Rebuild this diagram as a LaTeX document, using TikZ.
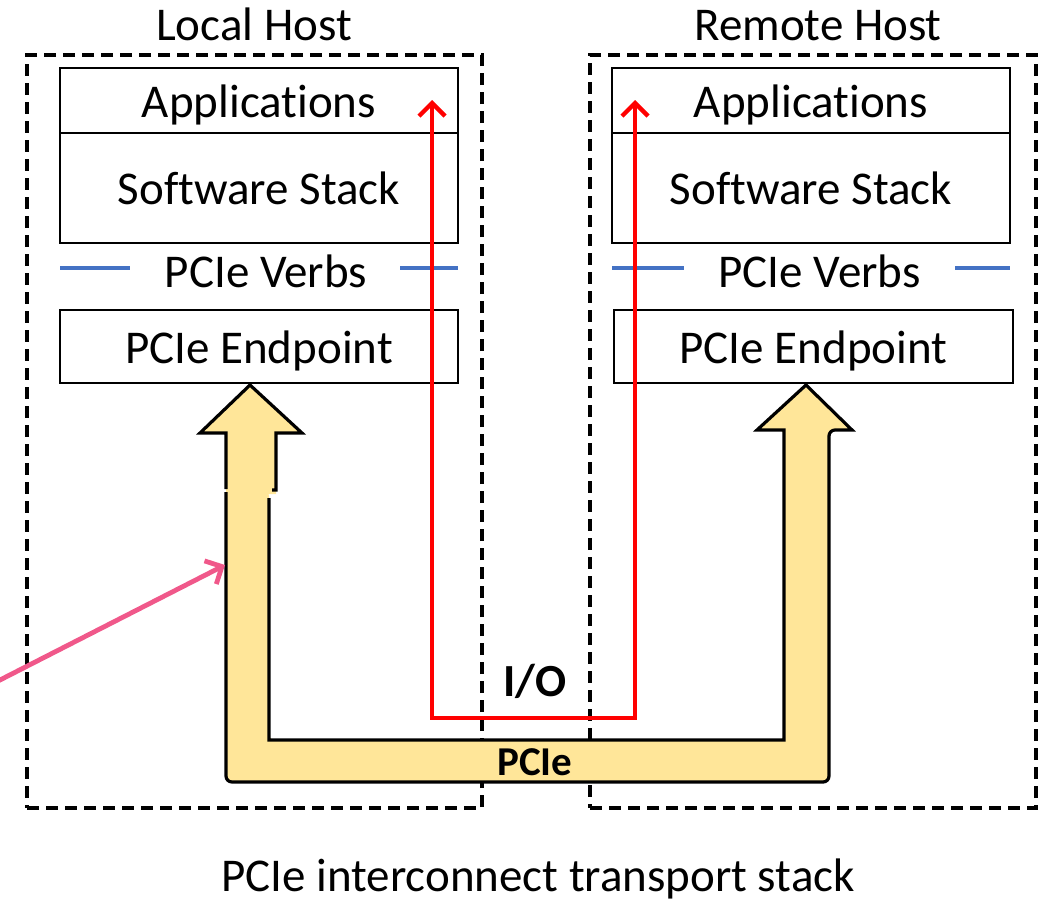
\documentclass[tikz,border=0pt]{standalone}
\usepackage{fontspec}
\setmainfont[Ligatures=NoCommon]{Carlito}
\usetikzlibrary{arrows.meta}
\definecolor{verbblue}{HTML}{4472C4}
\definecolor{busyellow}{HTML}{FFE699}
\definecolor{hintpink}{HTML}{F0588A}
\begin{document}
\begin{tikzpicture}[x=1pt,y=-1pt,
  hostbox/.style={draw, line width=3.3pt, dash pattern=on 12pt off 7pt, inner sep=0pt},
  layer/.style={draw, line width=2.8pt, inner sep=0pt, minimum width=398pt,
    text height=33pt, text depth=0pt, font=\fontsize{47}{56}\selectfont},
  title/.style={font=\fontsize{47}{56}\selectfont, inner sep=0pt, anchor=base},
  verbline/.style={draw=verbblue, line width=3.5pt},
  busfill/.style={fill=busyellow},
  busedge/.style={draw=black, line width=3.2pt, line join=miter},
  iopath/.style={draw=red, line width=4.3pt, {Straight Barb[length=13pt,width=26pt]}-{Straight Barb[length=13pt,width=26pt]}},
  hint/.style={draw=hintpink, line width=4.8pt, line cap=round, -{Straight Barb[length=13pt,width=26pt]}},
  tag/.style={font=\bfseries\fontsize{46}{54}\selectfont, inner sep=0pt, anchor=base}
]
\useasboundingbox (0,0) rectangle (1048,906);

% host frames and titles
\node[hostbox, minimum width=455pt, minimum height=753pt] (localhost) at (254.5,431.5) {};
\node[hostbox, minimum width=446pt, minimum height=753pt] (remotehost) at (813,431.5) {};
\node[title] (localtitle) at (254,40) {Local Host};
\node[title] (remotetitle) at (818,40) {Remote Host};

% local stack
\node[layer, minimum height=65pt] (appL) at (259,100.5) {Applications};
\node[layer, minimum height=110pt] (swL) at (259,188) {Software Stack};
\node[layer, minimum height=73pt] (epL) at (259,346.5) {PCIe Endpoint};
\node[title] (verbsL) at (266,287) {PCIe Verbs};
\coordinate (vL1) at (60,268); \coordinate (vL2) at (130,268);
\coordinate (vL3) at (400,268); \coordinate (vL4) at (458,268);
\draw[verbline] (vL1) -- (vL2);
\draw[verbline] (vL3) -- (vL4);

% remote stack
\node[layer, minimum height=65pt] (appR) at (811,100.5) {Applications};
\node[layer, minimum height=110pt] (swR) at (811,188) {Software Stack};
\node[layer, minimum height=73pt, minimum width=399pt] (epR) at (813.5,346.5) {PCIe Endpoint};
\node[title] (verbsR) at (819.5,287) {PCIe Verbs};
\coordinate (vR1) at (612,268); \coordinate (vR2) at (684,268);
\coordinate (vR3) at (955,268); \coordinate (vR4) at (1010,268);
\draw[verbline] (vR1) -- (vR2);
\draw[verbline] (vR3) -- (vR4);

% PCIe link: upper arrow head on the local side
\fill[busfill] (250,385) -- (302,433) -- (276,433) -- (276,494) -- (226,494) -- (226,433) -- (200,433) -- cycle;
\draw[busedge] (226,489) -- (226,433) -- (200,433) -- (250,385) -- (302,433) -- (276,433) -- (276,490) -- (272,490);
% PCIe link: U-shaped body with the remote arrow head
\fill[busfill, rounded corners=6pt] (226,490) -- (226,782) -- (829,782) -- (829,430) -- (852,430) -- (806,385) -- (757,430) -- (784,430) -- (784,740) -- (269,740) -- (269,490) -- cycle;
\draw[busedge, rounded corners=6pt] (226,492) -- (226,782) -- (829,782) -- (829,430) [sharp corners] -- (852,430) -- (806,385) -- (757,430) -- (784,430) -- (784,740) -- (269,740) -- (269,498);
\node[tag, font=\bfseries\fontsize{41}{50}\selectfont] (pcie) at (535,775) {PCIe};

% I/O path between the applications
\coordinate (ioL) at (432,100);
\coordinate (ioM) at (535,718);
\coordinate (ioR) at (635,100);
\draw[iopath] (ioL) |- (ioM) -| (ioR);
\node[tag] (io) at (535,696) {I/O};

% pointer into the link
\coordinate (hintstart) at (-2,681);
\coordinate (hintend) at (225,565);
\draw[hint] (hintstart) -- (hintend);

% caption
\node[title] (caption) at (538,891) {PCIe interconnect transport stack};
\end{tikzpicture}
\end{document}
